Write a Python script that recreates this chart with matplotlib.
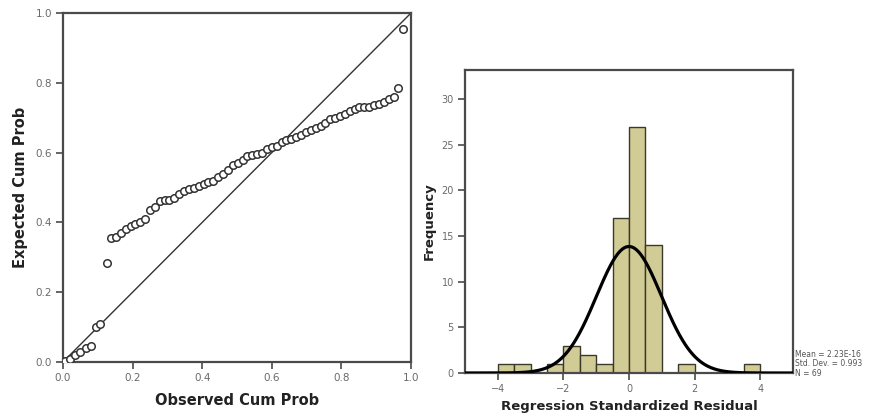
import numpy as np
import matplotlib
matplotlib.use("Agg")
import matplotlib.pyplot as plt

# ---- P-P plot data ----
observed_cum = [0.005, 0.02, 0.035, 0.05, 0.065, 0.08,
                0.095, 0.107, 0.126,
                0.138, 0.152, 0.166, 0.180, 0.194, 0.208, 0.222, 0.236, 0.250,
                0.264, 0.278, 0.292, 0.306, 0.320, 0.334, 0.348, 0.362,
                0.376, 0.390, 0.404, 0.418, 0.432, 0.446, 0.460, 0.474, 0.488,
                0.502, 0.516, 0.530, 0.544, 0.558, 0.572, 0.586, 0.600, 0.614,
                0.628, 0.642, 0.656, 0.670, 0.684, 0.698, 0.712, 0.726, 0.740,
                0.754, 0.768, 0.782, 0.796, 0.810, 0.824, 0.838, 0.852, 0.866,
                0.880, 0.894, 0.908, 0.922, 0.936, 0.950, 0.963, 0.977]
expected_cum = [0.003, 0.008, 0.02, 0.03, 0.04, 0.045,
                0.10, 0.11, 0.284,
                0.355, 0.358, 0.37, 0.38, 0.39, 0.395, 0.40, 0.41, 0.435,
                0.445, 0.46, 0.465, 0.465, 0.47, 0.48, 0.49, 0.495,
                0.50, 0.505, 0.51, 0.515, 0.52, 0.53, 0.54, 0.55, 0.565,
                0.57, 0.58, 0.59, 0.593, 0.597, 0.60, 0.61, 0.615, 0.62,
                0.63, 0.635, 0.64, 0.645, 0.65, 0.66, 0.665, 0.67, 0.675,
                0.685, 0.695, 0.70, 0.705, 0.71, 0.72, 0.725, 0.73, 0.73,
                0.73, 0.735, 0.74, 0.745, 0.755, 0.76, 0.785, 0.955]
pp_ticks = [0.0, 0.2, 0.4, 0.6, 0.8, 1.0]

# ---- Histogram data ----
bin_edges = [-4.0, -3.5, -3.0, -2.5, -2.0, -1.5, -1.0, -0.5, 0.0, 0.5, 1.0, 1.5, 2.0,
             2.5, 3.0, 3.5, 4.0]
bin_counts = [1, 1, 0, 1, 3, 2, 1, 17, 27, 14, 0, 1, 0, 0, 0, 1]
hist_xticks = [-4, -2, 0, 2, 4]
hist_yticks = [0, 5, 10, 15, 20, 25, 30]
res_mean = 2.23e-16
res_sd = 0.993
res_n = 69
stats_text = ["Mean = 2.23E-16", "Std. Dev. = 0.993", "N = 69"]

fig = plt.figure(figsize=(8.82, 4.19), dpi=100)
fig.patch.set_facecolor("white")

spine_c = "#4a4a4a"
tick_c = "#6a6a6a"

# ---------- Left: P-P plot ----------
ax1 = fig.add_axes([63/882, 1-362/419, (411-63)/882, (362-13)/419])
ax1.plot([0, 1], [0, 1], color="#333333", lw=1.0, zorder=2)
ax1.plot(observed_cum, expected_cum, linestyle="none", marker="o", ms=5.4,
         mfc="white", mec="#333333", mew=1.1, zorder=3)
ax1.set_xlim(0, 1)
ax1.set_ylim(0, 1)
ax1.set_xticks(pp_ticks)
ax1.set_yticks(pp_ticks)
ax1.set_xticklabels([f"{t:.1f}" for t in pp_ticks])
ax1.set_yticklabels([f"{t:.1f}" for t in pp_ticks])
for s in ax1.spines.values():
    s.set_color(spine_c)
    s.set_linewidth(1.6)
ax1.tick_params(direction="out", length=5, width=1.2, color=spine_c,
                labelsize=7.5, labelcolor=tick_c, pad=3)
ax1.set_xlabel("Observed Cum Prob", fontsize=10.5, fontweight="bold",
               color="#222222", labelpad=7)
ax1.set_ylabel("Expected Cum Prob", fontsize=10.5, fontweight="bold",
               color="#222222", labelpad=5)

# ---------- Right: histogram ----------
ax2 = fig.add_axes([465/882, 1-373/419, (793-465)/882, (373-70)/419])
ax2.hist(bin_edges[:-1], bins=bin_edges, weights=bin_counts,
         color="#d1cb96", edgecolor="#3a3a2a", linewidth=1.0, zorder=2)
xs = np.linspace(-5, 5, 400)
binw = bin_edges[1] - bin_edges[0]
curve = res_n * binw / (res_sd * np.sqrt(2 * np.pi)) * np.exp(-0.5 * ((xs - res_mean) / res_sd) ** 2)
ax2.plot(xs, curve, color="black", lw=2.3, zorder=3)
ax2.set_xlim(-5, 5)
ax2.set_ylim(0, 33.2)
ax2.set_xticks(hist_xticks)
ax2.set_yticks(hist_yticks)
for s in ax2.spines.values():
    s.set_color(spine_c)
    s.set_linewidth(1.6)
ax2.tick_params(direction="out", length=5, width=1.2, color=spine_c,
                labelsize=7, labelcolor=tick_c, pad=3)
ax2.set_xlabel("Regression Standardized Residual", fontsize=9.5,
               fontweight="bold", color="#222222", labelpad=4)
ax2.set_ylabel("Frequency", fontsize=9.5, fontweight="bold",
               color="#222222", labelpad=4)

for i, line in enumerate(stats_text):
    fig.text(795/882, 1 - (354 + i * 9.5)/419, line, fontsize=5.5,
             color="#555555", ha="left", va="center")

fig.savefig("out.png", dpi=100, facecolor="white")
